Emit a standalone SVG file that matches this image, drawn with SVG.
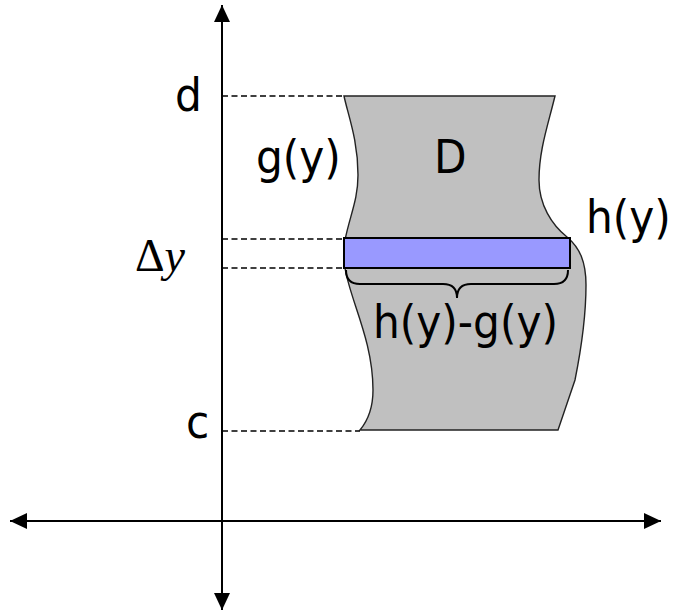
<svg xmlns="http://www.w3.org/2000/svg" width="673" height="614" viewBox="0 0 673 614">
  <style>
    .axis { stroke: #000; stroke-width: 2; fill: none; }
    .guide { stroke: #000; stroke-width: 1.5; stroke-dasharray: 6 3.5; fill: none; }
    .lbl { font-family: "DejaVu Sans Condensed", "DejaVu Sans", sans-serif; font-size: 47px; fill: #000; }
    .math { font-family: "Liberation Serif", "Times New Roman", serif; font-size: 46px; fill: #000; }
  </style>
  <defs>
    <marker id="arrow" viewBox="0 0 17 16" refX="17" refY="8" markerWidth="17" markerHeight="16" markerUnits="userSpaceOnUse" orient="auto-start-reverse">
      <path d="M0,0 L17,8 L0,16 z" fill="#000"/>
    </marker>
  </defs>

  <g id="region">
    <path d="M344,96 L555,96 C548,125 539,150 539,180 C539,205 552,225 567,237 C580,248 586,262 586,285 C586,320 580,355 575,380 L558,430 L360,430 C370,418 373,405 373,390 C373,340 350,300 345,268 L345,240 C350,215 358,200 358,175 C358,140 348,115 344,96 Z" fill="#C0C0C0" stroke="#222" stroke-width="1.4"/>
  </g>

  <g id="connectors">
    <line class="guide" x1="222" y1="96" x2="344" y2="96"/>
    <line class="guide" x1="222" y1="239" x2="344" y2="239"/>
    <line class="guide" x1="222" y1="268" x2="344" y2="268"/>
    <line class="guide" x1="222" y1="431" x2="360" y2="431"/>
    <line class="axis" x1="222" y1="610" x2="222" y2="5" marker-start="url(#arrow)" marker-end="url(#arrow)"/>
    <line class="axis" x1="10" y1="521" x2="661" y2="521" marker-start="url(#arrow)" marker-end="url(#arrow)"/>
  </g>

  <g id="strip">
    <rect x="344" y="238" width="226" height="30" fill="#9999FF" stroke="#000" stroke-width="2"/>
  </g>

  <g id="brace">
    <path d="M346,270 Q346,284 360,284 L443,284 Q457,284 457,298 Q457,284 471,284 L554,284 Q568,284 568,270" fill="none" stroke="#000" stroke-width="2"/>
  </g>

  <g id="labels">
    <text class="lbl" x="175" y="111">d</text>
    <text class="lbl" x="256" y="173">g(y)</text>
    <text class="lbl" x="434" y="173">D</text>
    <text class="lbl" x="586" y="233">h(y)</text>
    <text class="lbl" x="373" y="338">h(y)-g(y)</text>
    <text class="lbl" x="186" y="438">c</text>
    <text class="math" x="135" y="271">Δ<tspan font-style="italic">y</tspan></text>
  </g>
</svg>
